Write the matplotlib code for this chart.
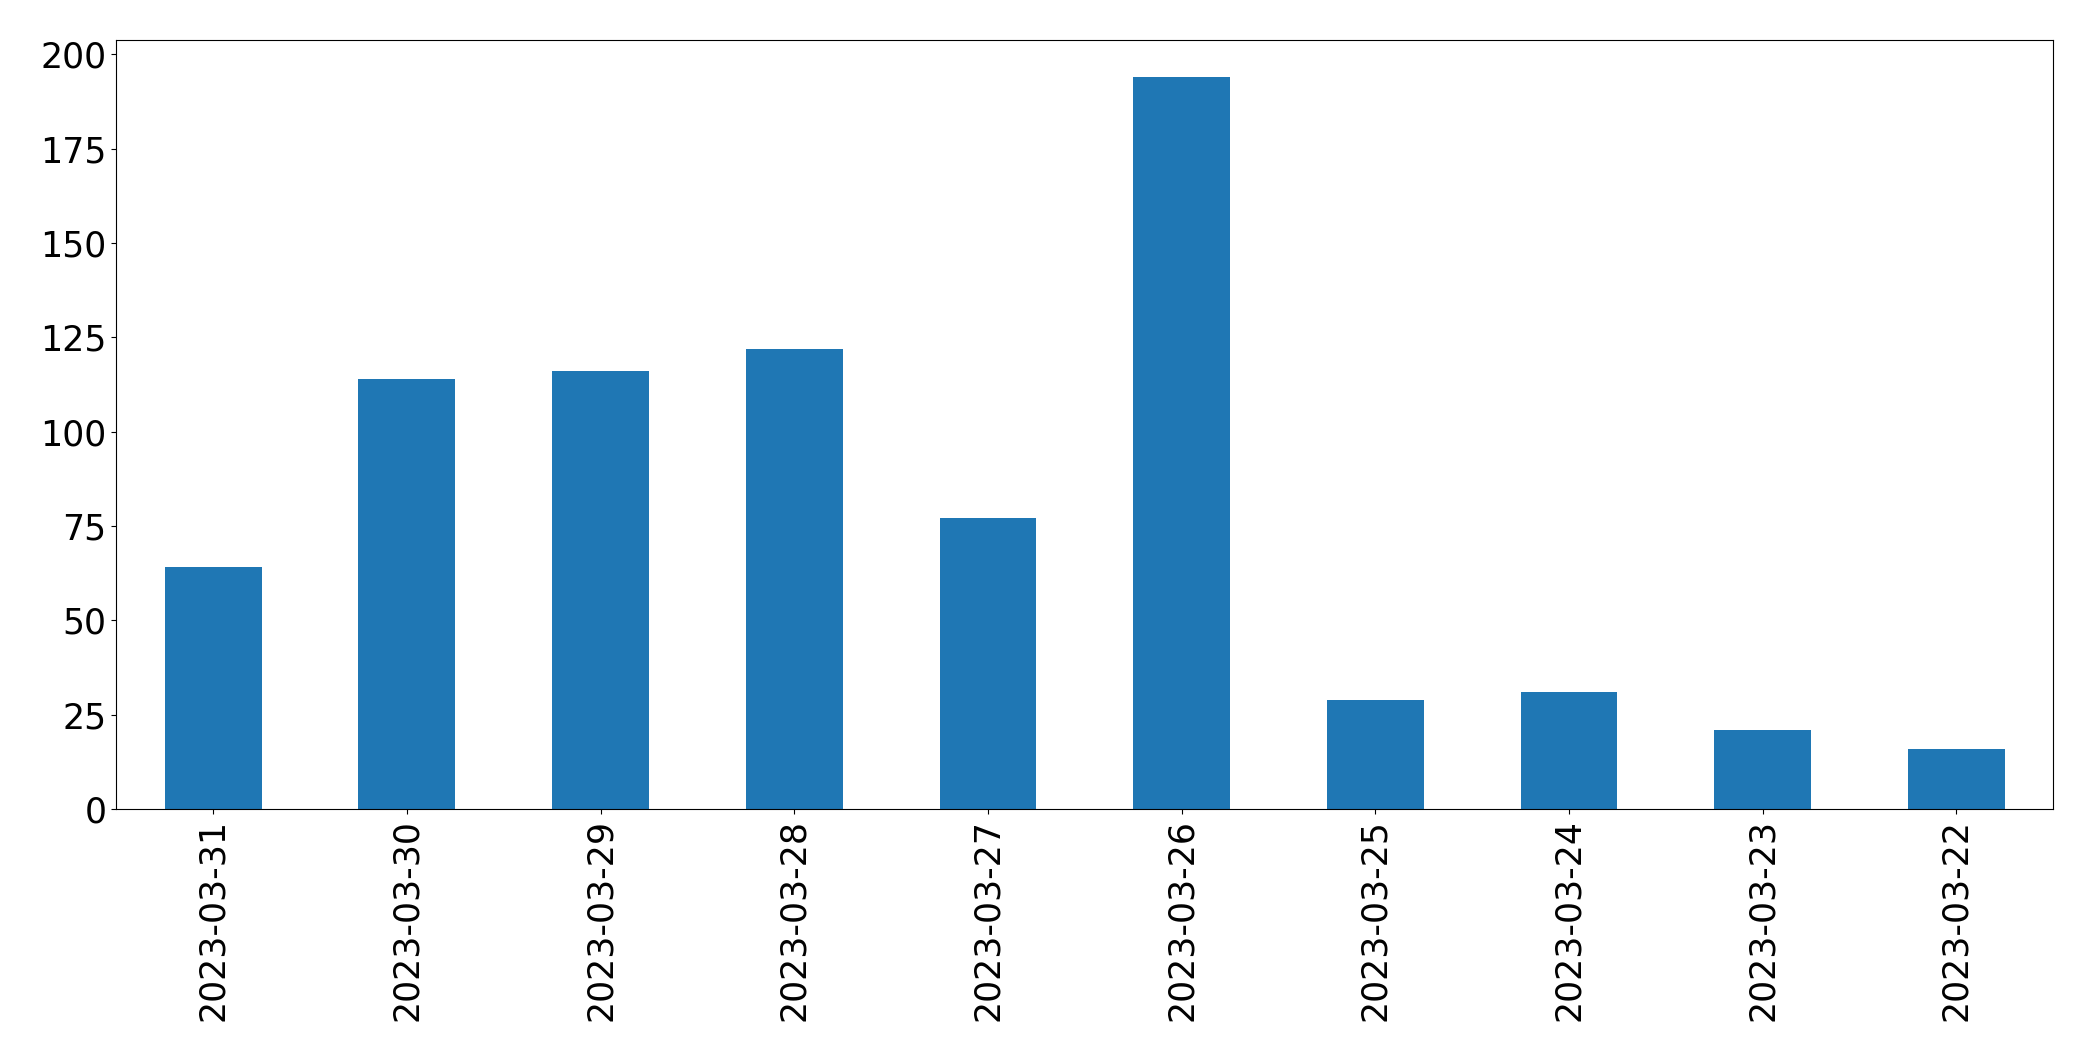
import matplotlib
matplotlib.use("Agg")
import matplotlib.pyplot as plt
import numpy as np

# dates (as shown, newest first) and daily counts
dates = ["2023-03-31", "2023-03-30", "2023-03-29", "2023-03-28", "2023-03-27",
         "2023-03-26", "2023-03-25", "2023-03-24", "2023-03-23", "2023-03-22"]
counts = [64, 114, 116, 122, 77, 194, 29, 31, 21, 16]

fig, ax = plt.subplots(figsize=(20.93, 10.61), dpi=100)
fig.subplots_adjust(left=0.0556, right=0.981, top=0.962, bottom=0.2375)

x = np.arange(len(dates))
ax.bar(x, counts, width=0.5, color="#1f77b4")
ax.set_xticks(x)
ax.set_xticklabels(dates, rotation=90)
ax.set_xlim(-0.5, len(dates) - 0.5)
ax.tick_params(axis="both", labelsize=25)

fig.savefig("out.png")
